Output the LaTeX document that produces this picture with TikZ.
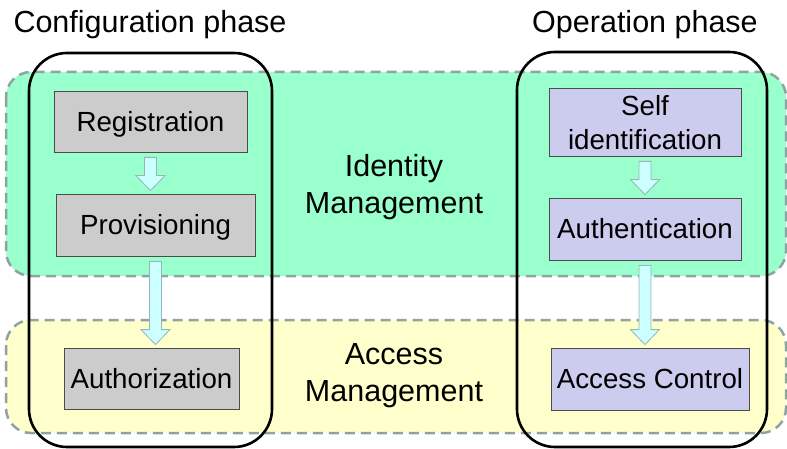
\documentclass[tikz,border=0pt]{standalone}
\usepackage{fontspec}
\setmainfont{Liberation Sans}
\usetikzlibrary{calc,positioning}

\definecolor{idgreen}{HTML}{99FFCC}
\definecolor{acyellow}{HTML}{FFFFCC}
\definecolor{stepgray}{HTML}{CCCCCC}
\definecolor{steplilac}{HTML}{CCCCEE}
\definecolor{bandline}{HTML}{8FA3A3}
\definecolor{arrowcyan}{HTML}{CCFFFF}
\definecolor{arrowline}{HTML}{99B5B5}

% block arrow from the bottom of one step to the top of the next
\newcommand\steparrow[2]{%
  \draw[blockarrow] let \p1=($(#1.south)+(0,5)$), \p2=($(#2.north)+(0,-3)$) in
    (\x1-6pt,\y1) -- (\x1+6pt,\y1) -- (\x1+6pt,\y2+15pt) -- (\x1+14.5pt,\y2+15pt)
    -- (\x1,\y2) -- (\x1-14.5pt,\y2+15pt) -- (\x1-6pt,\y2+15pt) -- cycle;}

\begin{document}
\begin{tikzpicture}[x=1pt,y=-1pt,
  band/.style={draw=bandline,line width=2.5pt,dash pattern=on 10pt off 6pt,rounded corners=25pt},
  phase/.style={draw=black,line width=2.6pt,rounded corners=38pt},
  stepbox/.style={draw=black!70,line width=0.8pt,inner sep=0pt,align=center,
    font=\fontsize{27.7}{34}\selectfont},
  oneline/.style={text height=19.8pt,text depth=0pt},
  regstep/.style={stepbox,oneline,fill=stepgray},
  opstep/.style={stepbox,fill=steplilac},
  label/.style={align=center,inner sep=0pt,font=\fontsize{30.5}{37}\selectfont},
  blockarrow/.style={draw=arrowline,line width=0.8pt,fill=arrowcyan}]
\useasboundingbox (0,0) rectangle (787,449);

% bands
\fill[idgreen,rounded corners=25pt] (6,72) rectangle (786,276);
\draw[band] (6,72) rectangle (786,276);
\fill[acyellow,rounded corners=25pt] (6,320) rectangle (786,433);
\draw[band] (6,320) rectangle (786,433);

% phases
\draw[phase] (29,53) rectangle (272,447);
\draw[phase] (517,52) rectangle (767,447);

\node[label] (conf) at (150,25) {Configuration phase};
\node[label] (oper) at (645,25) {Operation phase};
\node[label] (idm) at (394,187) {Identity\\Management};
\node[label] (acm) at (394,376) {Access\\Management};

% configuration steps
\node[regstep,minimum width=193,minimum height=61] (reg) at (150.5,121.5) {Registration};
\node[regstep,minimum width=199,minimum height=62] (prov) at (155.5,225) {Provisioning};
\node[regstep,minimum width=175,minimum height=61] (auth) at (151.5,378.5) {Authorization};

% operation steps
\node[opstep,text depth=-2.5pt,minimum width=192,minimum height=68] (self) at (645,122) {Self\\identification};
\node[opstep,oneline,minimum width=192,minimum height=62] (authn) at (645,229) {Authentication};
\node[opstep,oneline,minimum width=198,minimum height=62] (acc) at (650,379) {Access Control};

\steparrow{reg}{prov}
\steparrow{prov}{auth}
\steparrow{self}{authn}
\steparrow{authn}{acc}

\end{tikzpicture}
\end{document}
